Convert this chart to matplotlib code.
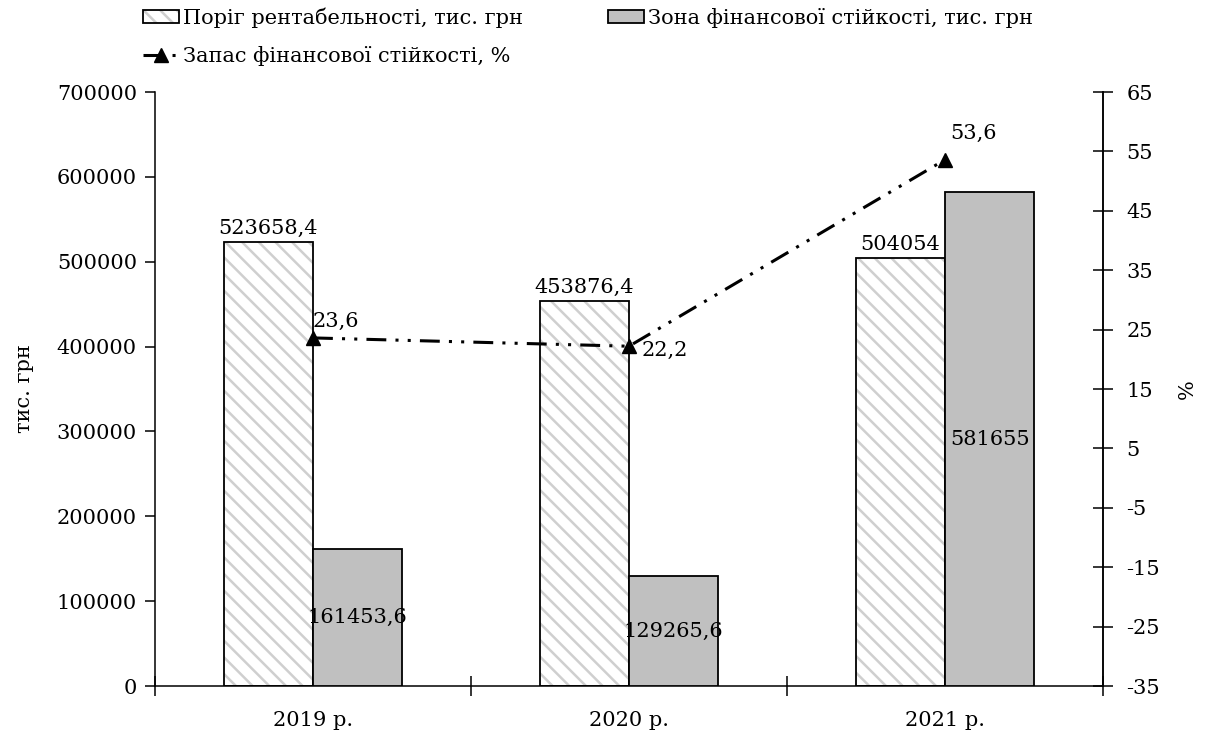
import matplotlib
matplotlib.use("Agg")
import matplotlib.pyplot as plt
from matplotlib.patches import Patch
from matplotlib.lines import Line2D

# Data
years = ["2019 р.", "2020 р.", "2021 р."]
breakeven = [523658.4, 453876.4, 504054]
safety_zone = [161453.6, 129265.6, 581655]
safety_margin = [23.6, 22.2, 53.6]

labels_series = ["Поріг рентабельності, тис. грн",
                 "Зона фінансової стійкості, тис. грн",
                 "Запас фінансової стійкості, %"]


def fmt(v):
    s = ("%.1f" % v).rstrip("0").rstrip(".")
    return s.replace(".", ",")


plt.rcParams["font.family"] = ["DejaVu Serif"]
plt.rcParams["hatch.linewidth"] = 1.8
plt.rcParams["axes.unicode_minus"] = False

FS = 15

fig = plt.figure(figsize=(12.09, 7.37), dpi=100)
ax = fig.add_axes([155 / 1209, 1 - 686 / 737, (1103 - 155) / 1209, (686 - 92) / 737])

x = list(range(len(years)))
w = 0.283
xh = [i - w / 2 for i in x]
xg = [i + w / 2 for i in x]

hatch_col = "#cfcfcf"
gray_col = "#c0c0c0"

ax.bar(xh, breakeven, width=w, facecolor="white", edgecolor=hatch_col,
       hatch="\\\\", linewidth=0, zorder=2)
ax.bar(xh, breakeven, width=w, fill=False, edgecolor="black",
       linewidth=1.3, zorder=3)
ax.bar(xg, safety_zone, width=w, facecolor=gray_col, edgecolor="black",
       linewidth=1.3, zorder=3)

for xi, v in zip(xh, breakeven):
    ax.annotate(fmt(v), (xi, v), xytext=(0, 3), textcoords="offset points",
                ha="center", va="bottom", fontsize=FS, zorder=5)
for xi, v in zip(xg, safety_zone):
    ax.text(xi, v / 2, fmt(v), ha="center", va="center", fontsize=FS, zorder=5)

ax.set_xlim(-0.5, 2.5)
ax.set_ylim(0, 700000)
ax.set_yticks(range(0, 700001, 100000))
ax.tick_params(axis="y", labelsize=FS, direction="out", length=7, width=1.1, pad=6)
ax.set_xticks(x)
ax.set_xticklabels(years, fontsize=FS)
ax.tick_params(axis="x", which="major", length=0, pad=18)
ax.set_xticks([-0.5, 0.5, 1.5, 2.5], minor=True)
ax.tick_params(axis="x", which="minor", direction="inout", length=14, width=1.1)
ax.set_ylabel("тис. грн", fontsize=FS, labelpad=16)

for s in ["left", "bottom", "right"]:
    ax.spines[s].set_linewidth(1.1)
ax.spines["top"].set_visible(False)

ax2 = ax.twinx()
ax2.set_ylim(-35, 65)
ax2.set_yticks(range(-35, 66, 10))
ax2.tick_params(axis="y", labelsize=FS, direction="inout", length=14, width=1.1, pad=10)
ax2.spines["top"].set_visible(False)
ax2.spines["right"].set_linewidth(1.1)
ax2.spines["left"].set_visible(False)
ax2.spines["bottom"].set_visible(False)
ax2.set_ylabel("%", fontsize=FS, rotation=90, labelpad=13)

line, = ax2.plot(x, safety_margin, color="black", linewidth=2.2,
                 dashes=(6.5, 3, 1, 3, 1, 3), marker="^", markersize=10,
                 zorder=6)

offsets = [((0, 5), "left", "bottom"), ((9, -3), "left", "center"),
           ((4, 12), "left", "bottom")]
for xi, v, (off, ha, va) in zip(x, safety_margin, offsets):
    ax2.annotate(fmt(v), (xi, v), xytext=off, textcoords="offset points",
                 ha=ha, va=va, fontsize=FS, zorder=7)

# Legend
h_hatch = (Patch(facecolor="white", edgecolor=hatch_col, hatch="\\\\", linewidth=0),
           Patch(fill=False, edgecolor="black", linewidth=1.3))
h_gray = Patch(facecolor=gray_col, edgecolor="black", linewidth=1.3)
h_line = Line2D([], [], color="black", linewidth=2.2, dashes=(6.5, 3, 1, 3, 1, 3),
                marker="^", markersize=10)
fig.legend([h_hatch, h_line, h_gray], [labels_series[0], labels_series[2], labels_series[1]],
           loc="upper left", bbox_to_anchor=(135 / 1209, 1 + 1 / 737), ncol=2,
           frameon=False, fontsize=FS, handlelength=1.7, handleheight=0.6,
           handletextpad=0.2, columnspacing=4.1, labelspacing=0.85,
           borderaxespad=0)

fig.savefig("out.png", dpi=100)
